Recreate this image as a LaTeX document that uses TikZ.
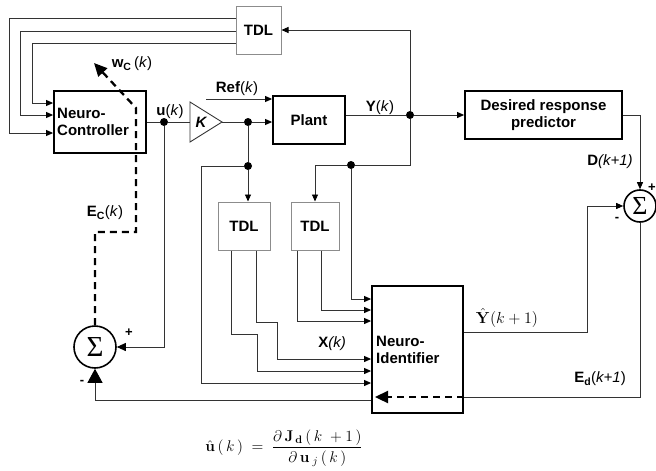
\documentclass[tikz,border=0pt]{standalone}
\usepackage{fix-cm}
\usepackage[no-math]{fontspec}
\setmainfont{Liberation Sans}
\newfontfamily\serifsum{Liberation Serif}
\usetikzlibrary{arrows.meta,calc}
\begin{document}
\begin{tikzpicture}[x=1pt,y=-1pt,
  every node/.style={font=\fontsize{15}{17}\selectfont},
  wire/.style={draw=black!80, line width=0.9pt},
  arr/.style={-{Triangle[length=7pt,width=6pt,color=black]}},
  bigarr/.style={-{Triangle[length=13pt,width=12pt]}},
  blk/.style={draw=black, line width=1.8pt, inner sep=0pt, fill=white},
  tdlbox/.style={draw=black!45, line width=1pt, fill=white, inner sep=0pt, font=\fontsize{15}{17}\selectfont\bfseries},
  dsh/.style={line width=2.3pt, dash pattern=on 7pt off 5pt, black},
  jdot/.style={circle, fill=black, inner sep=0pt, minimum size=8pt},
  sumc/.style={circle, draw, line width=1.6pt, inner sep=0pt, fill=white},
  lbl/.style={inner sep=0pt},
  sgn/.style={inner sep=0pt, font=\fontsize{13}{13}\selectfont\bfseries}]
\useasboundingbox (0,0) rectangle (656,471);

% blocks
\node[tdlbox, minimum width=45pt, minimum height=48pt] (tdl0) at (258.5,30) {TDL};
\node[blk, minimum width=92pt, minimum height=62pt] (nc) at (100,122) {};
\node[lbl, anchor=west, align=left, font=\fontsize{15}{17}\selectfont\bfseries] (nct) at (57,122) {Neuro-\\Controller};
\node[blk, minimum width=72pt, minimum height=48pt, font=\fontsize{15}{17}\selectfont\bfseries] (plant) at (309,120) {Plant};
\node[blk, minimum width=157pt, minimum height=48pt, align=center, font=\fontsize{15}{17}\selectfont\bfseries] (drp) at (543.5,115) {Desired response\\predictor};
\node[blk, minimum width=91pt, minimum height=127pt] (ni) at (417.5,349.5) {};
\node[lbl, anchor=west, align=left, font=\fontsize{15}{17}\selectfont\bfseries] (nit) at (376,350) {Neuro-\\Identifier};
\node[tdlbox, minimum width=52pt, minimum height=48pt] (tdl1) at (244,226) {TDL};
\node[tdlbox, minimum width=48pt, minimum height=48pt] (tdl2) at (315,226) {TDL};
\node[sumc, minimum size=42pt, font=\fontsize{29}{29}\selectfont\serifsum] (sumL) at (95,347) {Σ};
\node[sumc, minimum size=32pt, font=\fontsize{26}{26}\selectfont\serifsum] (sumR) at (640,206) {Σ};

% gain K
\draw[black!80, line width=0.9pt, fill=white] (190,102) -- (222,122) -- (190,142) -- cycle;
\coordinate (kin) at (190,122);
\coordinate (kout) at (222,122);
\node[lbl, font=\fontsize{15}{17}\selectfont\bfseries\itshape] (kt) at (201,122) {K};

% junctions
\node[jdot] (du) at (164,122) {};
\node[jdot] (dk) at (248,122) {};
\node[jdot] (dk2) at (248,166) {};
\node[jdot] (dy) at (410,115) {};
\node[jdot] (dy2) at (351,165) {};

% TDL feedback to controller
\draw[wire,arr] (dy) |- (tdl0.east);
\draw[wire,arr] (tdl0.west |- 0,18) -| (9,133) -- (nc.west |- 0,133);
\draw[wire,arr] (tdl0.west |- 0,31) -| (20,115) -- (nc.west |- 0,115);
\draw[wire,arr] (tdl0.west |- 0,43) -| (32,103) -- (nc.west |- 0,103);

% forward path
\draw[wire] (nc.east) -- (du);
\draw[wire] (du) -- (kin);
\draw[wire] (kout) -- (dk);
\draw[wire,arr] (dk) -- (plant.west |- dk);
\coordinate (refs) at (206,99);
\draw[wire,arr] (refs) -- (plant.west |- refs);
\draw[wire] (plant.east |- dy) -- (dy);
\draw[wire,arr] (dy) -- (drp.west);
\draw[wire,arr] (drp.east) -| (sumR.north);

% identifier inputs
\draw[wire] (dy) |- (dy2);
\draw[wire,arr] (dy2) -| (tdl2.north);
\draw[wire,arr] (dy2) |- (ni.west |- 0,299);
\draw[wire] (dk) -- (dk2);
\draw[wire,arr] (dk2) -- (dk2 |- tdl1.north);
\draw[wire,arr] (dk2) -| (201,383) -- (ni.west |- 0,383);
\draw[wire,arr] (tdl1.south -| 231,0) |- (257,334) |- (ni.west |- 0,371);
\draw[wire,arr] (tdl1.south -| 256,0) |- (277,322) |- (ni.west |- 0,359);
\draw[wire,arr] (tdl2.south -| 297,0) |- (ni.west |- 0,321);
\draw[wire,arr] (tdl2.south -| 321,0) |- (ni.west |- 0,310);

% identifier output and error
\draw[wire,arr] (ni.east |- 0,332) -| (587,206) -- (sumR.west);
\draw[wire] (sumR.south) |- (ni.east |- 0,397);
\coordinate (dtip) at (375,397);
\draw[dsh,bigarr] (ni.east |- 0,397) -- (dtip);
\draw[wire,-{Triangle[length=14pt,width=15pt,color=black]}] (ni.west |- 0,400) -| (sumL.south);
\draw[wire,-{Triangle[length=9pt,width=8pt,color=black]}] (du) |- (sumL.east);

% controller error (dashed)
\coordinate (wtip) at (94,63);
\draw[dsh,bigarr] (sumL.north) |- (136,232) -- (136,108) -- (wtip);

% labels
\node[lbl] (lu) at (170,112) {\textbf{u}(\textit{k})};
\node[lbl] (lref) at (237,89) {\textbf{Ref}(\textit{k})};
\node[lbl] (ly) at (380,108) {\textbf{Y}(\textit{k})};
\node[lbl] (lw) at (132,64) {\textbf{w}\textsubscript{\textbf{C}}\,(\textit{k})};
\node[lbl] (lec) at (105,213) {\textbf{E}\textsubscript{\textbf{C}}(\textit{k})};
\node[lbl] (lx) at (332,344) {\textbf{X}\textit{(k)}};
\node[lbl] (ld) at (610,162) {\textbf{D}\textit{(k+1)}};
\node[lbl] (led) at (600,379) {\textbf{E}\textsubscript{\textbf{d}}(\textit{k+1})};
\node[lbl] (lyh) at (507,318) {\fontsize{16}{16}\selectfont$\hat{\mathbf{Y}}(k+1)$};
\node[sgn] (pl) at (129,333) {+};
\node[sgn] (ml) at (82,382) {-};
\node[sgn] (pr) at (652,188) {+};
\node[sgn] (mr) at (617,219) {-};
\node[lbl] (eq) at (284,448) {\fontsize{15.5}{18}\selectfont$\displaystyle\hat{\mathbf{u}}\,(\,k\,)\;=\;\frac{\partial\,\mathbf{J}_{\,\mathbf{d}}\,(\,k\;+1\,)}{\partial\,\mathbf{u}_{\;j}\,(\,k\,)}$};
\end{tikzpicture}
\end{document}
